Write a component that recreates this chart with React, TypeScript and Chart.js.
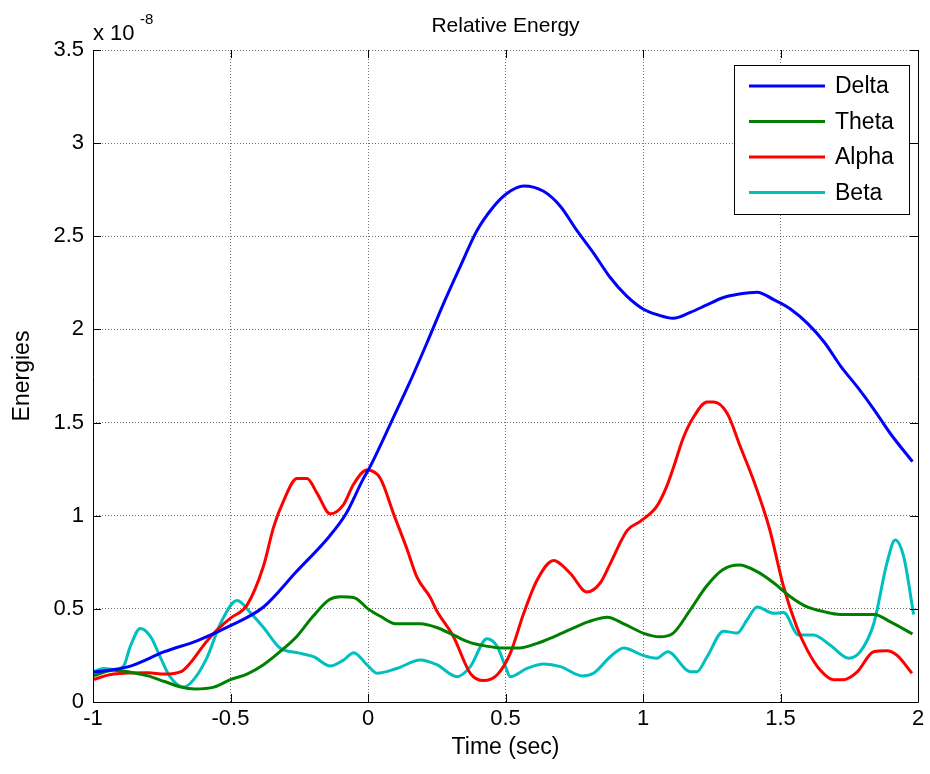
import React, { useEffect, useRef } from "react";
import { Chart, registerables } from "chart.js";

Chart.register(...registerables);

// Values are in units of 1e-8 (axis multiplier "x 10^-8")
const deltaTime = [-1, -0.87, -0.74, -0.62, -0.5, -0.38, -0.26, -0.14, -0.08, -0.02, 0.01, 0.09, 0.15, 0.215, 0.275, 0.336, 0.396, 0.457, 0.505, 0.566, 0.64, 0.7, 0.76, 0.82, 0.88, 0.94, 1.0, 1.05, 1.11, 1.17, 1.23, 1.29, 1.35, 1.415, 1.475, 1.536, 1.6, 1.66, 1.72, 1.78, 1.84, 1.9, 1.98];
const deltaValues = [0.16, 0.19, 0.27, 0.33, 0.41, 0.51, 0.7, 0.89, 1.01, 1.19, 1.27, 1.52, 1.71, 1.93, 2.14, 2.34, 2.53, 2.66, 2.73, 2.77, 2.74, 2.66, 2.53, 2.41, 2.28, 2.18, 2.11, 2.08, 2.06, 2.09, 2.13, 2.17, 2.19, 2.2, 2.16, 2.11, 2.03, 1.93, 1.8, 1.69, 1.57, 1.44, 1.29];

const thetaTime = [-1, -0.925, -0.864, -0.8, -0.74, -0.68, -0.63, -0.56, -0.5, -0.44, -0.38, -0.32, -0.26, -0.2, -0.14, -0.1, -0.05, 0.0, 0.045, 0.1, 0.19, 0.25, 0.31, 0.37, 0.43, 0.49, 0.55, 0.615, 0.675, 0.736, 0.8, 0.87, 0.93, 1.0, 1.06, 1.11, 1.17, 1.23, 1.29, 1.35, 1.415, 1.475, 1.536, 1.597, 1.657, 1.717, 1.84, 1.9, 1.98];
const thetaValues = [0.14, 0.17, 0.16, 0.14, 0.11, 0.08, 0.07, 0.08, 0.12, 0.15, 0.2, 0.27, 0.35, 0.46, 0.55, 0.565, 0.56, 0.5, 0.46, 0.42, 0.42, 0.4, 0.36, 0.32, 0.3, 0.29, 0.29, 0.315, 0.35, 0.39, 0.43, 0.455, 0.42, 0.37, 0.35, 0.37, 0.49, 0.62, 0.71, 0.735, 0.7, 0.64, 0.565, 0.51, 0.485, 0.47, 0.47, 0.43, 0.365];

const alphaTime = [-1, -0.925, -0.8, -0.74, -0.68, -0.646, -0.6, -0.56, -0.5, -0.44, -0.38, -0.343, -0.307, -0.258, -0.222, -0.185, -0.137, -0.089, -0.052, -0.004, 0.045, 0.093, 0.142, 0.178, 0.227, 0.25, 0.311, 0.372, 0.42, 0.469, 0.517, 0.566, 0.615, 0.675, 0.736, 0.796, 0.845, 0.88, 0.942, 0.99, 1.05, 1.087, 1.111, 1.147, 1.184, 1.233, 1.257, 1.306, 1.354, 1.402, 1.46, 1.511, 1.56, 1.597, 1.645, 1.693, 1.73, 1.778, 1.839, 1.887, 1.924, 1.978];
const alphaValues = [0.12, 0.15, 0.157, 0.15, 0.163, 0.21, 0.3, 0.37, 0.45, 0.52, 0.73, 0.94, 1.08, 1.2, 1.2, 1.12, 1.01, 1.06, 1.17, 1.245, 1.2, 1.01, 0.82, 0.67, 0.56, 0.49, 0.35, 0.154, 0.115, 0.145, 0.26, 0.475, 0.655, 0.76, 0.69, 0.59, 0.64, 0.74, 0.92, 0.97, 1.05, 1.16, 1.26, 1.42, 1.53, 1.61, 1.61, 1.55, 1.37, 1.19, 0.93, 0.62, 0.4, 0.28, 0.17, 0.12, 0.12, 0.16, 0.27, 0.275, 0.25, 0.154];

const betaTime = [-1, -0.96, -0.925, -0.89, -0.864, -0.828, -0.79, -0.755, -0.72, -0.67, -0.634, -0.585, -0.537, -0.476, -0.428, -0.38, -0.32, -0.258, -0.198, -0.137, -0.089, -0.052, -0.004, 0.033, 0.105, 0.19, 0.25, 0.324, 0.372, 0.433, 0.469, 0.5, 0.517, 0.578, 0.639, 0.7, 0.78, 0.82, 0.881, 0.93, 1.0, 1.05, 1.09, 1.172, 1.196, 1.233, 1.293, 1.342, 1.378, 1.415, 1.475, 1.511, 1.566, 1.62, 1.68, 1.748, 1.79, 1.839, 1.887, 1.917, 1.948, 1.984];
const betaValues = [0.163, 0.18, 0.175, 0.19, 0.3, 0.395, 0.35, 0.24, 0.136, 0.08, 0.12, 0.24, 0.42, 0.545, 0.48, 0.4, 0.29, 0.265, 0.243, 0.193, 0.225, 0.265, 0.2, 0.154, 0.18, 0.225, 0.2, 0.136, 0.19, 0.34, 0.3, 0.19, 0.136, 0.18, 0.204, 0.19, 0.14, 0.154, 0.243, 0.29, 0.25, 0.235, 0.27, 0.163, 0.163, 0.243, 0.38, 0.37, 0.44, 0.51, 0.476, 0.48, 0.36, 0.36, 0.306, 0.235, 0.27, 0.42, 0.745, 0.87, 0.78, 0.47];

const seriesNames = ["Delta", "Theta", "Alpha", "Beta"];
const seriesColors = ["#0000FF", "#008000", "#FF0000", "#00BFBF"];
const xTicks = [-1, -0.5, 0, 0.5, 1, 1.5, 2];
const yTicks = [0, 0.5, 1, 1.5, 2, 2.5, 3, 3.5];

const chartTitle = "Relative Energy";
const xTitle = "Time (sec)";
const yTitle = "Energies";
const FONT = "'Liberation Sans', Arial, sans-serif";

function pts(t: number[], v: number[]) {
  return t.map((x, i) => ({ x, y: v[i] }));
}

const decorPlugin = {
  id: "decor",
  afterDraw(chart: any) {
    const { ctx, chartArea: a, scales } = chart;
    ctx.save();
    // axes box (left, bottom, right)
    ctx.strokeStyle = "#000";
    ctx.lineWidth = 1;
    ctx.beginPath();
    ctx.moveTo(Math.round(a.left) + 0.5, a.top);
    ctx.lineTo(Math.round(a.left) + 0.5, Math.round(a.bottom) + 0.5);
    ctx.lineTo(Math.round(a.right) + 0.5, Math.round(a.bottom) + 0.5);
    ctx.lineTo(Math.round(a.right) + 0.5, a.top);
    ctx.stroke();
    // inward ticks
    const tl = 8;
    ctx.beginPath();
    xTicks.forEach((t) => {
      const px = Math.round(scales.x.getPixelForValue(t)) + 0.5;
      ctx.moveTo(px, a.bottom);
      ctx.lineTo(px, a.bottom - tl);
      ctx.moveTo(px, a.top);
      ctx.lineTo(px, a.top + tl);
    });
    yTicks.forEach((t) => {
      const py = Math.round(scales.y.getPixelForValue(t)) + 0.5;
      ctx.moveTo(a.left, py);
      ctx.lineTo(a.left + tl, py);
      ctx.moveTo(a.right, py);
      ctx.lineTo(a.right - tl, py);
    });
    ctx.stroke();

    // legend
    const lx = 734, ly = 65, lw = 175, lh = 149;
    ctx.fillStyle = "#fff";
    ctx.fillRect(lx, ly, lw, lh);
    ctx.strokeStyle = "#000";
    ctx.strokeRect(lx + 0.5, ly + 0.5, lw, lh);
    ctx.font = `23px ${FONT}`;
    ctx.textBaseline = "middle";
    ctx.textAlign = "left";
    seriesNames.forEach((name, i) => {
      const y = 86 + i * 35.5;
      ctx.strokeStyle = seriesColors[i];
      ctx.lineWidth = 3;
      ctx.beginPath();
      ctx.moveTo(749, y);
      ctx.lineTo(825, y);
      ctx.stroke();
      ctx.fillStyle = "#000";
      ctx.fillText(name, 835, y + 1);
    });

    // titles
    const cx = (a.left + a.right) / 2;
    ctx.fillStyle = "#000";
    ctx.textAlign = "center";
    ctx.font = `21px ${FONT}`;
    ctx.fillText(chartTitle, cx, 26);
    ctx.font = `23px ${FONT}`;
    ctx.fillText(xTitle, cx, 748);
    ctx.save();
    ctx.translate(23, (a.top + a.bottom) / 2);
    ctx.rotate(-Math.PI / 2);
    ctx.fillText(yTitle, 0, 0);
    ctx.restore();

    // exponent label
    ctx.textAlign = "left";
    ctx.textBaseline = "alphabetic";
    ctx.font = `22px ${FONT}`;
    ctx.fillText("x 10", 93, 40);
    ctx.font = `15px ${FONT}`;
    ctx.fillText("-8", 140, 24);
    ctx.restore();
  },
};

export default function App() {
  const ref = useRef<HTMLCanvasElement | null>(null);
  useEffect(() => {
    document.body.style.margin = "0";
    const canvas = ref.current;
    if (!canvas) return;
    const data = [
      pts(deltaTime, deltaValues),
      pts(thetaTime, thetaValues),
      pts(alphaTime, alphaValues),
      pts(betaTime, betaValues),
    ];
    const chart = new Chart(canvas, {
      type: "line",
      data: {
        datasets: seriesNames.map((name, i) => ({
          label: name,
          data: data[i],
          borderColor: seriesColors[i],
          backgroundColor: seriesColors[i],
          borderWidth: 3,
          pointRadius: 0,
          fill: false,
          cubicInterpolationMode: "monotone" as const,
        })),
      },
      options: {
        responsive: false,
        animation: false,
        devicePixelRatio: 1,
        layout: { padding: { top: 50, right: 12, left: 0, bottom: 0 } },
        plugins: { legend: { display: false }, title: { display: false }, tooltip: { enabled: false } },
        scales: {
          x: {
            type: "linear",
            min: -1,
            max: 2,
            afterBuildTicks: (s: any) => { s.ticks = xTicks.map((v) => ({ value: v })); },
            afterFit: (s: any) => { s.height = 72; },
            ticks: {
              color: "#000",
              font: { family: FONT, size: 22 },
              padding: 4,
              maxRotation: 0,
              callback: (v: any) => String(v),
            },
            grid: { color: "rgba(0,0,0,0.55)", drawTicks: false, tickLength: 0 },
            border: { display: false, dash: [1, 2] },
          },
          y: {
            type: "linear",
            min: 0,
            max: 3.5,
            afterBuildTicks: (s: any) => { s.ticks = yTicks.map((v) => ({ value: v })); },
            afterFit: (s: any) => { s.width = 93; },
            ticks: {
              color: "#000",
              font: { family: FONT, size: 22 },
              padding: 9,
              callback: (v: any) => String(v),
            },
            grid: { color: "rgba(0,0,0,0.55)", drawTicks: false, tickLength: 0 },
            border: { display: false, dash: [1, 2] },
          },
        },
      },
      plugins: [decorPlugin],
    });
    return () => chart.destroy();
  }, []);
  return (
    <div style={{ position: "absolute", left: 0, top: 0, width: 930, height: 774, background: "#fff" }}>
      <canvas ref={ref} width={930} height={774} />
    </div>
  );
}
